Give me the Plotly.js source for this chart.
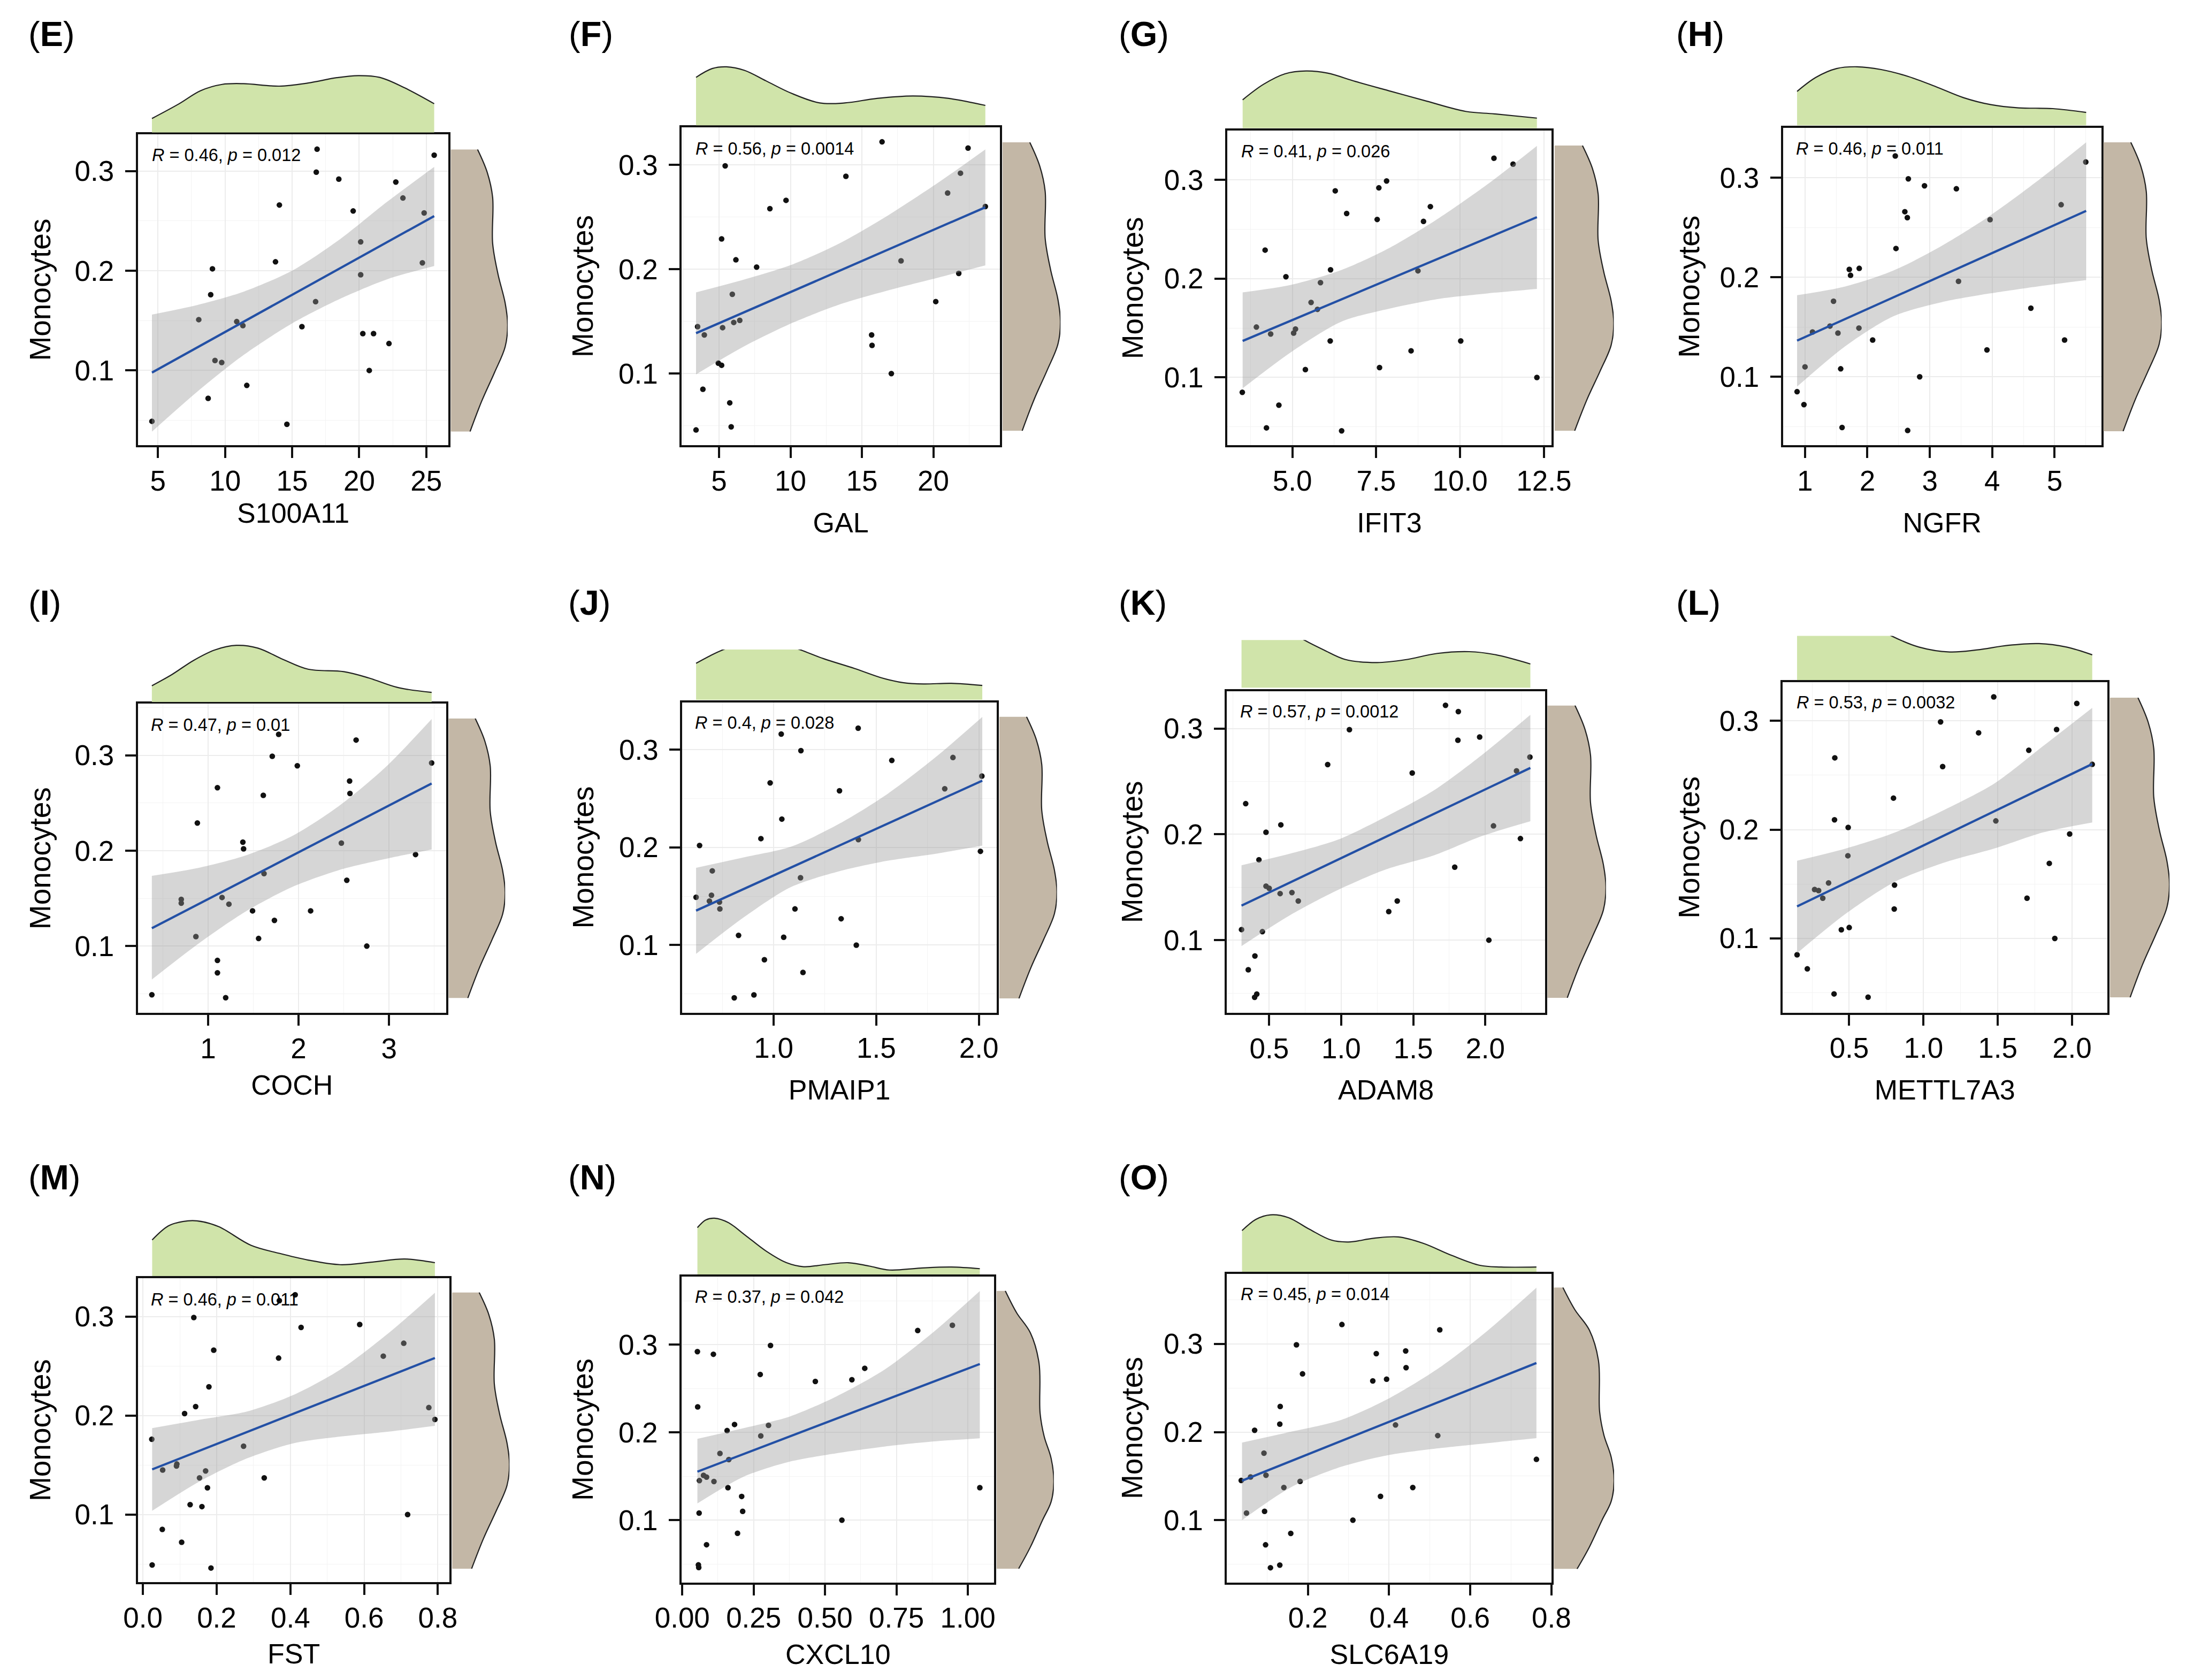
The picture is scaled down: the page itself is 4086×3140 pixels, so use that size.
<!DOCTYPE html>
<html>
<head>
<meta charset="utf-8">
<script src="https://cdn.plot.ly/plotly-3.0.1.min.js"></script>
<style>
  body { margin: 0; background: #fff; }
</style>
</head>
<body>
<div id="canvas" style="width:4086px;height:3140px"></div>
<script>
// monocyte fraction per sample, same samples in every panel
const monocytes = [.322,.316,.299,.292,.289,.273,.266,.260,.258,.229,.209,.208,.202,.196,.176,.169,.151,.149,.145,.144,.137,.137,.127,.110,.108,.100,.085,.072,.049,.046];

// right hand density of monocytes
const sideY = [.322,.299,.274,.228,.197,.168,.146,.124,.098,.070,.039];
const sideDens = [.502,.683,.784,.784,.884,1.018,1.065,1.018,.817,.583,.362];
const sideYWide = [.3613,.3362,.3133,.279,.2219,.1952,.1705,.1438,.121,.1,.0695,.0448];
const sideDensWide = [.161,.374,.631,.792,.812,.889,1.018,1.069,1.018,.857,.631,.412];

// S100A11
const S100A11_x = [16.86,25.59,16.80,18.48,22.73,23.26,14.05,19.55,24.84,20.11,13.76,24.71,9.06,20.11,8.93,16.75,8.04,10.87,11.33,15.73,20.27,21.07,22.22,9.25,9.75,20.75,11.62,8.74,4.55,14.61];
const S100A11_fit = [.0979,.2549];
const S100A11_bandX = [4.55,7.91,11.38,15.01,18.59,22.06,25.59];
const S100A11_upper = [.1561,.1656,.1790,.2002,.2319,.2690,.3042];
const S100A11_lower = [.0386,.0785,.1155,.1473,.1720,.1914,.2048];
const S100A11_densX = [4.55,6.58,8.18,9.78,11.38,14.05,16.19,18.32,19.93,21.53,23.40,25.59];
const S100A11_dens = [.268,.549,.797,.917,.931,.884,.944,1.045,1.085,1.051,.850,.549];

// GAL
const GAL_x = [16.41,22.43,5.43,21.90,13.88,21.00,9.69,23.64,8.56,5.18,6.18,17.74,7.63,21.78,5.93,20.17,6.45,6.03,3.50,5.25,3.97,15.68,15.71,4.95,5.18,17.06,3.87,5.75,5.85,3.39];
const GAL_fit = [.1387,.2593];
const GAL_bandX = [3.39,6.78,10.17,13.55,16.94,20.33,23.64];
const GAL_upper = [.1778,.1902,.2047,.2256,.2525,.2828,.3148];
const GAL_lower = [.0993,.1263,.1488,.1667,.1801,.1919,.2037];
const GAL_densX = [3.39,4.52,5.53,6.78,8.29,10.04,12.05,13.80,16.06,18.57,21.08,23.64];
const GAL_dens = [.917,1.085,1.118,1.051,.850,.616,.429,.429,.516,.563,.516,.382];

// IFIT3
const IFIT3_x = [11.01,11.58,7.81,7.58,6.28,9.115,6.62,7.53,8.91,4.19,6.14,8.745,4.81,5.84,5.56,5.75,3.93,5.095,5.04,4.355,6.13,10.02,8.54,7.60,5.39,12.29,3.51,4.60,4.23,6.47];
const IFIT3_fit = [.137,.2623];
const IFIT3_bandX = [3.52,4.99,6.47,7.90,9.38,10.81,12.29];
const IFIT3_upper = [.1861,.1940,.2089,.2313,.2616,.2954,.3345];
const IFIT3_lower = [.0890,.1263,.1566,.1698,.1797,.1851,.1897];
const IFIT3_densX = [3.52,4.14,4.78,5.41,6.05,6.89,7.95,9.01,10.17,11.02,12.29];
const IFIT3_dens = [.537,.829,1.028,1.081,1.041,.882,.696,.511,.318,.272,.192];

// NGFR
const NGFR_x = [2.447,5.50,2.656,2.915,3.426,5.105,2.60,2.64,3.966,2.458,1.869,1.71,1.73,3.46,1.457,4.62,1.40,1.864,1.12,1.528,2.084,5.16,3.916,1.00,1.572,2.838,.873,.983,1.594,2.645];
const NGFR_fit = [.1364,.2668];
const NGFR_bandX = [.873,1.644,2.414,3.184,3.955,4.725,5.506];
const NGFR_upper = [.1820,.1908,.2067,.2314,.2615,.2968,.3357];
const NGFR_lower = [.0901,.1307,.1608,.1749,.1837,.1908,.1972];
const NGFR_densX = [.873,1.176,1.506,1.836,2.221,2.662,3.102,3.542,3.982,4.422,4.973,5.506];
const NGFR_dens = [.637,.900,1.064,1.097,1.045,.913,.723,.519,.388,.329,.315,.243];

// COCH
const COCH_x = [1.78,2.636,1.709,3.471,1.986,2.564,1.103,2.568,1.61,.881,1.384,2.473,1.392,3.293,1.618,2.533,1.154,.703,.703,1.23,1.491,2.133,1.733,.865,1.558,2.754,1.103,1.103,.378,1.194];
const COCH_fit = [.1188,.2705];
const COCH_bandX = [.378,.897,1.412,1.927,2.442,2.956,3.471];
const COCH_upper = [.1737,.1821,.195,.2153,.2466,.2871,.3379];
const COCH_lower = [.065,.1029,.1361,.1619,.1796,.1913,.2013];
const COCH_densX = [.378,.6,.838,1.075,1.313,1.55,1.828,2.105,2.501,2.778,3.095,3.471];
const COCH_dens = [.308,.522,.79,.991,1.078,1.025,.81,.623,.576,.455,.275,.181];

// PMAIP1
const PMAIP1_x = [1.412,1.037,1.133,1.874,1.576,2.015,.983,1.834,1.321,1.04,.938,1.413,.639,2.008,.701,1.131,.697,.622,.687,.736,1.104,.738,1.329,.829,1.049,1.403,.955,1.143,.904,.808];
const PMAIP1_fit = [.1353,.2683];
const PMAIP1_bandX = [.622,.857,1.084,1.319,1.555,1.79,2.017];
const PMAIP1_upper = [.1791,.1899,.2007,.2241,.2547,.2924,.3335];
const PMAIP1_lower = [.091,.1288,.1594,.1755,.1863,.1935,.2018];
const PMAIP1_densX = [.622,.689,.756,.857,.941,1.042,1.126,1.244,1.395,1.529,1.63,1.731,1.866,2.017];
const PMAIP1_dens = [.683,.821,.94,1.064,1.097,1.045,.94,.769,.585,.407,.322,.296,.309,.269];

// ADAM8
const ADAM8_x = [1.724,1.813,1.057,1.961,1.81,2.31,.906,2.217,1.493,.337,.581,2.057,.478,2.244,.429,1.788,.478,.5,.658,.576,.702,1.389,1.33,.308,.453,2.025,.401,.355,.414,.399];
const ADAM8_fit = [.1326,.2628];
const ADAM8_bandX = [.308,.645,.978,1.31,1.643,1.975,2.313];
const ADAM8_upper = [.1708,.1817,.195,.2166,.2415,.2748,.313];
const ADAM8_lower = [.0944,.1236,.1475,.1668,.1801,.1983,.2123];
const ADAM8_densX = [.308,.411,.534,.658,.744,.879,1.027,1.249,1.446,1.667,1.889,2.062,2.313];
const ADAM8_dens = [1.015,1.181,1.214,1.048,.902,.716,.537,.478,.531,.65,.683,.63,.451];

// METTL7A3
const METTL7A3_x = [1.473,2.032,1.115,1.896,1.371,1.709,.403,2.136,1.129,.798,.401,1.487,.493,1.984,.491,1.847,.361,.805,.267,.294,.322,1.697,.803,.5,.447,1.884,.149,.218,.398,.627];
const METTL7A3_fit = [.1294,.2603];
const METTL7A3_bandX = [.149,.479,.807,1.142,1.478,1.801,2.136];
const METTL7A3_upper = [.1714,.1827,.1973,.2183,.2425,.2764,.312];
const METTL7A3_lower = [.0864,.1229,.152,.1698,.1827,.1973,.2066];
const METTL7A3_densX = [.149,.299,.461,.622,.784,.969,1.177,1.362,1.57,1.778,1.963,2.136];
const METTL7A3_dens = [1.058,1.189,1.222,1.091,.828,.618,.526,.565,.65,.683,.618,.473];

// FST
const FST_x = [.413,.370,.138,.588,.429,.7075,.192,.652,.368,.179,.143,.7755,.113,.792,.024,.273,.092,.091,.0535,.170,.1535,.329,.175,.128,.160,.718,.0525,.105,.025,.1846];
const FST_fit = [.1456,.2581];
const FST_bandX = [.025,.152,.283,.409,.535,.667,.792];
const FST_upper = [.1872,.1956,.2041,.2209,.2463,.2834,.324];
const FST_lower = [.1037,.1331,.1568,.172,.1787,.1838,.1895];
const FST_densX = [.025,.069,.108,.147,.205,.293,.370,.448,.535,.623,.710,.792];
const FST_dens = [.723,1.004,1.092,1.105,.991,.616,.455,.321,.228,.281,.342,.268];

// CXCL10
const CXCL10_x = [.946,.8245,.309,.053,.109,.639,.273,.594,.466,.054,.183,.302,.157,.275,.132,.163,.0745,.085,.060,.111,.160,1.042,.208,.2115,.059,.559,.1935,.085,.0565,.0577];
const CXCL10_fit = [.1552,.2779];
const CXCL10_bandX = [.053,.215,.377,.54,.708,.876,1.042];
const CXCL10_upper = [.1926,.2048,.2181,.241,.2714,.3133,.361];
const CXCL10_lower = [.119,.1495,.1667,.1762,.1838,.1895,.1933];
const CXCL10_densX = [.053,.083,.113,.161,.221,.293,.365,.425,.498,.582,.654,.726,.834,.942,1.042];
const CXCL10_dens = [.902,1.05,1.082,.998,.754,.451,.225,.148,.187,.225,.161,.084,.122,.142,.11];

// SLC6A19
const SLC6A19_x = [.284,.525,.172,.441,.3686,.442,.187,.394,.360,.132,.131,.416,.069,.520,.092,.763,.097,.059,.036,.181,.141,.4585,.379,.0935,.049,.311,.158,.096,.131,.108];
const SLC6A19_fit = [.1448,.2784];
const SLC6A19_bandX = [.038,.161,.283,.401,.523,.641,.763];
const SLC6A19_upper = [.188,.2006,.2139,.2385,.2727,.3144,.3638];
const SLC6A19_lower = [.1,.138,.1607,.1740,.1816,.1873,.193];
const SLC6A19_densX = [.038,.073,.108,.152,.204,.257,.3,.362,.423,.484,.554,.624,.676,.763];
const SLC6A19_dens = [.816,1.041,1.128,1.074,.842,.63,.59,.663,.69,.564,.325,.126,.093,.093];

// page geometry
const PAGE_W = 4086;
const PAGE_H = 3140;
const FONT = "Liberation Sans";
const GREEN = "#d0e4aa";
const BROWN = "#c3b7a6";
const INK = "#111111";

// frame/top/side are pixel boxes on the page
const panels = [
    { gene: "S100A11", tag: "E", stat: ["0.46", "0.012"], x: S100A11_x, fit: S100A11_fit, bandX: S100A11_bandX, upper: S100A11_upper, lower: S100A11_lower, densX: S100A11_densX, dens: S100A11_dens,
      frame: [257.8, 838.4, 250.9, 832.3], top: [120.2, 247.7], topMax: 1.3, side: [842.4, 948.9, 279.2, 806.7], xr: [3.505, 26.66], yr: [.0249, .337], dtick: 5, fmt: "d", xgap: 15, ygap: 28, tagPos: [51, 64], statPos: [281.6, 290.3] },
    { gene: "GAL", tag: "F", stat: ["0.56", "0.0014"], x: GAL_x, fit: GAL_fit, bandX: GAL_bandX, upper: GAL_upper, lower: GAL_lower, densX: GAL_densX, dens: GAL_dens,
      frame: [1274.3, 1869, 237.8, 832.3], top: [107, 234.5], topMax: 1.3, side: [1873.7, 1982.2, 266, 805.3], xr: [2.39, 24.66], yr: [.0313, .336], dtick: 5, fmt: "d", xgap: 33, ygap: 31, tagPos: [1061, 64], statPos: [1298, 277.9] },
    { gene: "IFIT3", tag: "G", stat: ["0.41", "0.026"], x: IFIT3_x, fit: IFIT3_fit, bandX: IFIT3_bandX, upper: IFIT3_upper, lower: IFIT3_lower, densX: IFIT3_densX, dens: IFIT3_dens,
      frame: [2294.1, 2899.7, 244.4, 832.3], top: [111, 239.8], topMax: 1.3, side: [2905.6, 3016.4, 272, 805.3], xr: [3.064, 12.72], yr: [.0313, .3498], dtick: 2.5, fmt: ".1f", xgap: 33, ygap: 23, tagPos: [2089, 64], statPos: [2317.6, 283.1] },
    { gene: "NGFR", tag: "H", stat: ["0.46", "0.011"], x: NGFR_x, fit: NGFR_fit, bandX: NGFR_bandX, upper: NGFR_upper, lower: NGFR_lower, densX: NGFR_densX, dens: NGFR_dens,
      frame: [3332.8, 3927.6, 239.1, 832.3], top: [104.5, 234.5], topMax: 1.3, side: [3931.4, 4040.5, 266, 806], xr: [.648, 5.748], yr: [.0311, .3502], dtick: 1, fmt: "d", xgap: 33, ygap: 21, tagPos: [3130.5, 64], statPos: [3354.8, 277.9] },
    { gene: "COCH", tag: "I", stat: ["0.47", "0.01"], x: COCH_x, fit: COCH_fit, bandX: COCH_bandX, upper: COCH_upper, lower: COCH_lower, densX: COCH_densX, dens: COCH_dens,
      frame: [257.8, 833.7, 1315.2, 1893.2], top: [1184.4, 1311.9], topMax: 1.3, side: [838.4, 944.2, 1342.8, 1865.6], xr: [.224, 3.63], yr: [.03, .3541], dtick: 1, fmt: "d", xgap: 23, ygap: 28, tagPos: [51, 1126], statPos: [280.3, 1354.6] },
    { gene: "PMAIP1", tag: "J", stat: ["0.4", "0.028"], x: PMAIP1_x, fit: PMAIP1_fit, bandX: PMAIP1_bandX, upper: PMAIP1_upper, lower: PMAIP1_lower, densX: PMAIP1_densX, dens: PMAIP1_dens,
      frame: [1275.4, 1862.9, 1312.5, 1892.6], top: [1214, 1308], topMax: .94, side: [1868, 1975.6, 1339.5, 1866.3], xr: [.555, 2.087], yr: [.0309, .3486], dtick: .5, fmt: ".1f", xgap: 32, ygap: 31, tagPos: [1060, 1126], statPos: [1296.9, 1351.3] },
    { gene: "ADAM8", tag: "K", stat: ["0.57", "0.0012"], x: ADAM8_x, fit: ADAM8_fit, bandX: ADAM8_bandX, upper: ADAM8_upper, lower: ADAM8_lower, densX: ADAM8_densX, dens: ADAM8_dens,
      frame: [2293.4, 2887.7, 1291.5, 1893.2], top: [1196.3, 1285.6], topMax: .902, side: [2892.3, 3001.8, 1318.5, 1865], xr: [.207, 2.414], yr: [.0312, .3355], dtick: .5, fmt: ".1f", xgap: 32, ygap: 23, tagPos: [2089, 1126], statPos: [2315.6, 1329.6] },
    { gene: "METTL7A3", tag: "L", stat: ["0.53", "0.0032"], x: METTL7A3_x, fit: METTL7A3_fit, bandX: METTL7A3_bandX, upper: METTL7A3_upper, lower: METTL7A3_lower, densX: METTL7A3_densX, dens: METTL7A3_dens,
      frame: [3332.1, 3938.5, 1275.1, 1892.6], top: [1188.4, 1271.2], topMax: .828, side: [3943.6, 4055.2, 1304, 1864.3], xr: [.052, 2.236], yr: [.0318, .3355], dtick: .5, fmt: ".1f", xgap: 32, ygap: 21, tagPos: [3130.5, 1126], statPos: [3356.1, 1313.2] },
    { gene: "FST", tag: "M", stat: ["0.46", "0.011"], x: FST_x, fit: FST_fit, bandX: FST_bandX, upper: FST_upper, lower: FST_lower, densX: FST_densX, dens: FST_dens,
      frame: [257.8, 840.4, 2389.4, 2956.9], top: [2263.7, 2385], topMax: 1.3, side: [845.1, 952.3, 2415.6, 2931.9], xr: [-.0136, .8319], yr: [.0318, .3385], dtick: .2, fmt: ".1f", xgap: 22, ygap: 28, tagPos: [51, 2200], statPos: [280.3, 2428.8] },
    { gene: "CXCL10", tag: "N", stat: ["0.37", "0.042"], x: CXCL10_x, fit: CXCL10_fit, bandX: CXCL10_bandX, upper: CXCL10_upper, lower: CXCL10_lower, densX: CXCL10_densX, dens: CXCL10_dens,
      frame: [1274.2, 1858.4, 2386.3, 2957.5], top: [2255.8, 2381.9], topMax: 1.3, side: [1862.9, 1969.8, 2412.5, 2931.9], wide: true, xr: [-.002, 1.0925], yr: [.0291, .3773], dtick: .25, fmt: ".2f", xgap: 22, ygap: 31, tagPos: [1060, 2200], statPos: [1296.9, 2424.4] },
    { gene: "SLC6A19", tag: "O", stat: ["0.45", "0.014"], x: SLC6A19_x, fit: SLC6A19_fit, bandX: SLC6A19_bandX, upper: SLC6A19_upper, lower: SLC6A19_lower, densX: SLC6A19_densX, dens: SLC6A19_dens,
      frame: [2293.4, 2900.3, 2380.6, 2957.5], top: [2254.4, 2376.9], topMax: 1.3, side: [2904.3, 3017, 2406.3, 2932.5], wide: true, xr: [.0009, .8005], yr: [.0294, .3797], dtick: .2, fmt: ".1f", xgap: 22, ygap: 23, tagPos: [2089, 2200], statPos: [2317, 2419.4] },
];

function domX(a, b) { return [a / PAGE_W, b / PAGE_W]; }
function domY(top, bottom) { return [1 - bottom / PAGE_H, 1 - top / PAGE_H]; }
function axisKey(n) { return n === 1 ? "" : String(n); }

let traces = [];
let layout = {
    width: PAGE_W,
    height: PAGE_H,
    margin: { l: 0, r: 0, t: 0, b: 0 },
    paper_bgcolor: "#ffffff",
    plot_bgcolor: "#ffffff",
    showlegend: false,
    hovermode: false,
    font: { family: FONT, color: "#000000" },
    annotations: [],
};

panels.forEach((p, i) => {
    let mainId = axisKey(3 * i + 1);
    let topId = axisKey(3 * i + 2);
    let sideId = axisKey(3 * i + 3);
    let mx = "x" + mainId, my = "y" + mainId;
    let tx = "x" + topId, ty = "y" + topId;
    let sx = "x" + sideId, sy = "y" + sideId;

    // points go under the band, that is why they look grey inside it
    traces.push({ type: "scatter", mode: "markers", x: p.x, y: monocytes, xaxis: mx, yaxis: my, cliponaxis: false,
        marker: { size: 10.5, color: INK } });
    traces.push({ type: "scatter", mode: "lines", x: p.bandX, y: p.lower, xaxis: mx, yaxis: my,
        line: { width: 0, shape: "spline", smoothing: 0.8 } });
    traces.push({ type: "scatter", mode: "lines", x: p.bandX, y: p.upper, xaxis: mx, yaxis: my, fill: "tonexty", fillcolor: "rgba(153,153,153,0.4)",
        line: { width: 0, shape: "spline", smoothing: 0.8 } });
    traces.push({ type: "scatter", mode: "lines", x: [p.bandX[0], p.bandX[p.bandX.length - 1]], y: p.fit, xaxis: mx, yaxis: my,
        line: { color: "#2350a5", width: 4.2 } });

    traces.push({ type: "scatter", mode: "lines", x: p.densX, y: p.dens, xaxis: tx, yaxis: ty, fill: "tozeroy", fillcolor: GREEN,
        line: { color: "#222222", width: 2.2, shape: "spline" } });

    traces.push({ type: "scatter", mode: "lines", x: p.wide ? sideDensWide : sideDens, y: p.wide ? sideYWide : sideY, xaxis: sx, yaxis: sy, fill: "tozerox", fillcolor: BROWN, cliponaxis: false,
        line: { color: "#222222", width: 2.2, shape: "spline" } });

    layout["xaxis" + mainId] = {
        domain: domX(p.frame[0], p.frame[1]), range: p.xr, anchor: my,
        tick0: 0, dtick: p.dtick, tickformat: p.fmt,
        ticks: "outside", ticklen: 20, tickwidth: 3.5, tickcolor: INK, ticklabelstandoff: -3,
        tickfont: { size: 53, family: FONT, color: "#000000" },
        showline: true, mirror: true, linecolor: INK, linewidth: 4, zeroline: false,
        showgrid: true, gridcolor: "#ececec", gridwidth: 2.4,
        minor: { tick0: 0, dtick: p.dtick / 2, showgrid: true, gridcolor: "#f3f3f3", gridwidth: 1.4, ticks: "" },
        title: { text: p.gene, standoff: p.xgap, font: { size: 52, family: FONT, color: "#000000" } },
    };
    layout["yaxis" + mainId] = {
        domain: domY(p.frame[2], p.frame[3]), range: p.yr, anchor: mx,
        tick0: 0, dtick: .1, tickformat: ".1f",
        ticks: "outside", ticklen: 20, tickwidth: 3.5, tickcolor: INK, ticklabelstandoff: 10,
        tickfont: { size: 53, family: FONT, color: "#000000" },
        showline: true, mirror: true, linecolor: INK, linewidth: 4, zeroline: false,
        showgrid: true, gridcolor: "#ececec", gridwidth: 2.4,
        minor: { tick0: 0, dtick: .05, showgrid: true, gridcolor: "#f3f3f3", gridwidth: 1.4, ticks: "" },
        title: { text: "Monocytes", standoff: p.ygap, font: { size: 55, family: FONT, color: "#000000" } },
    };

    // marginal densities
    layout["xaxis" + topId] = { domain: domX(p.frame[0], p.frame[1]), range: p.xr, anchor: ty, visible: false };
    layout["yaxis" + topId] = { domain: domY(p.top[0], p.top[1]), range: [0, p.topMax], anchor: tx, visible: false };
    layout["xaxis" + sideId] = { domain: domX(p.side[0], p.side[1]), range: [0, p.wide ? 1.069 : 1.065], anchor: sy, visible: false };
    layout["yaxis" + sideId] = { domain: domY(p.side[2], p.side[3]), range: p.wide ? [.0448, .3613] : [.039, .322], anchor: sx, visible: false };

    layout.annotations.push({
        xref: "paper", yref: "paper", x: p.tagPos[0] / PAGE_W, y: 1 - p.tagPos[1] / PAGE_H, xanchor: "left", yanchor: "middle", showarrow: false,
        text: "(<b>" + p.tag + "</b>)", font: { size: 65, family: FONT, color: "#000000" },
    });
    layout.annotations.push({
        xref: "paper", yref: "paper", x: p.statPos[0] / PAGE_W, y: 1 - p.statPos[1] / PAGE_H, xanchor: "left", yanchor: "middle", showarrow: false,
        text: "<i>R</i> = " + p.stat[0] + ", <i>p</i> = " + p.stat[1], font: { size: 32.5, family: FONT, color: "#000000" },
    });
});

Plotly.newPlot("canvas", traces, layout, { displayModeBar: false, responsive: false });
</script>
</body>
</html>
